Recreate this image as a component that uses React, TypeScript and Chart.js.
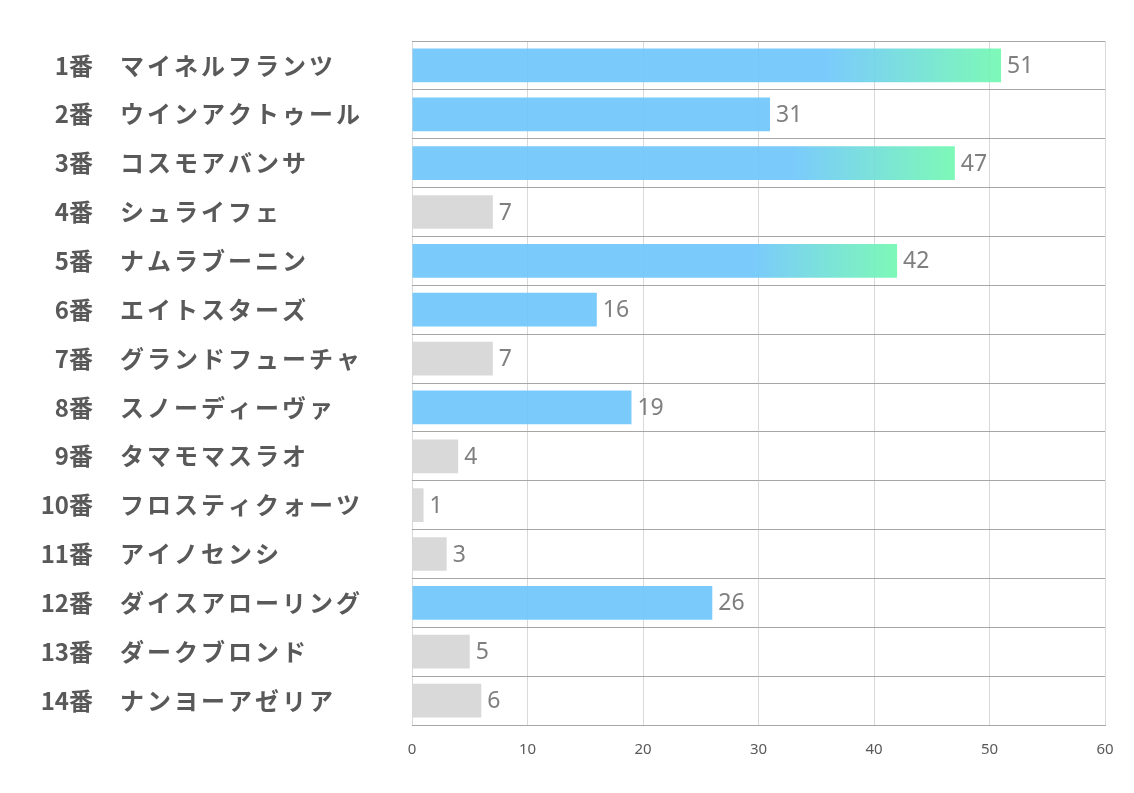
import React, { useEffect, useRef } from "react";
import { Chart, registerables } from "chart.js";

Chart.register(...registerables);

const numbers = ["1番", "2番", "3番", "4番", "5番", "6番", "7番", "8番", "9番", "10番", "11番", "12番", "13番", "14番"];
const horses = [
  "マイネルフランツ",
  "ウインアクトゥール",
  "コスモアバンサ",
  "シュライフェ",
  "ナムラブーニン",
  "エイトスターズ",
  "グランドフューチャ",
  "スノーディーヴァ",
  "タマモマスラオ",
  "フロスティクォーツ",
  "アイノセンシ",
  "ダイスアローリング",
  "ダークブロンド",
  "ナンヨーアゼリア",
];
const votes = [51, 31, 47, 7, 42, 16, 7, 19, 4, 1, 3, 26, 5, 6];
const xTicks = [0, 10, 20, 30, 40, 50, 60];

const BLUE = "rgba(108,197,252,0.9)";
const GREEN = "rgba(111,248,176,0.9)";
const GRAY = "rgba(213,213,213,0.9)";

const labelPlugin = {
  id: "labelPlugin",
  afterDraw(chart: any) {
    const ctx = chart.ctx;
    const ys = chart.scales.y;
    const meta = chart.getDatasetMeta(0);
    ctx.save();
    ctx.textBaseline = "middle";
    ctx.fillStyle = "#595959";
    ctx.font = 'bold 24px "Noto Sans CJK JP"';
    numbers.forEach((n, i) => {
      const y = ys.getPixelForValue(i);
      ctx.letterSpacing = "0px";
      ctx.textAlign = "right";
      ctx.fillText(n, 93, y);
      ctx.textAlign = "left";
      ctx.letterSpacing = "3px";
      ctx.fillText(horses[i], 120, y);
    });
    ctx.letterSpacing = "0px";
    ctx.font = '23px "Noto Sans"';
    ctx.fillStyle = "#7f7f7f";
    ctx.textAlign = "left";
    meta.data.forEach((bar: any, i: number) => {
      ctx.fillText(String(votes[i]), bar.x + 6, bar.y + 1);
    });
    ctx.restore();
  },
};

export default function App() {
  const ref = useRef<HTMLCanvasElement>(null);
  useEffect(() => {
    if (!ref.current) return;
    const chart = new Chart(ref.current, {
      type: "bar",
      data: {
        labels: numbers.map((n, i) => n + "　" + horses[i]),
        datasets: [
          {
            data: votes,
            backgroundColor: (c: any) => {
              const v = votes[c.dataIndex];
              if (v < 10) return GRAY;
              if (v < 40) return BLUE;
              const chart = c.chart;
              const xs = chart.scales.x;
              if (!xs || !chart.chartArea) return BLUE;
              const x0 = xs.getPixelForValue(0);
              const x1 = xs.getPixelForValue(v);
              const g = chart.ctx.createLinearGradient(x0, 0, x1, 0);
              g.addColorStop(0, BLUE);
              g.addColorStop(0.7, BLUE);
              g.addColorStop(1, GREEN);
              return g;
            },
            borderWidth: 0,
            categoryPercentage: 1,
            barPercentage: 0.69,
          },
        ],
      },
      options: {
        indexAxis: "y",
        animation: false,
        responsive: false,
        maintainAspectRatio: false,
        layout: { padding: { left: 0, right: 29, top: 41, bottom: 0 } },
        plugins: { legend: { display: false }, tooltip: { enabled: false } },
        scales: {
          x: {
            min: 0,
            max: 60,
            afterBuildTicks: (s: any) => {
              s.ticks = xTicks.map((v) => ({ value: v }));
            },
            afterFit: (s: any) => {
              s.height = 68;
            },
            grid: { color: "#d9d9d9", lineWidth: 1, drawTicks: false },
            border: { color: "#a6a6a6", width: 1 },
            ticks: {
              padding: 16,
              color: "#595959",
              font: { family: "Noto Sans", size: 15 },
            },
          },
          y: {
            afterFit: (s: any) => {
              s.width = 412;
            },
            grid: { color: "#a6a6a6", lineWidth: 1, drawTicks: false, offset: true },
            border: { display: false },
            ticks: { display: false },
          },
        },
      },
      plugins: [labelPlugin],
    } as any);
    return () => chart.destroy();
  }, []);
  return (
    <div style={{ position: "fixed", left: 0, top: 0, width: 1134, height: 793, background: "#fff" }}>
      <canvas ref={ref} width={1134} height={793} style={{ display: "block" }} />
    </div>
  );
}
